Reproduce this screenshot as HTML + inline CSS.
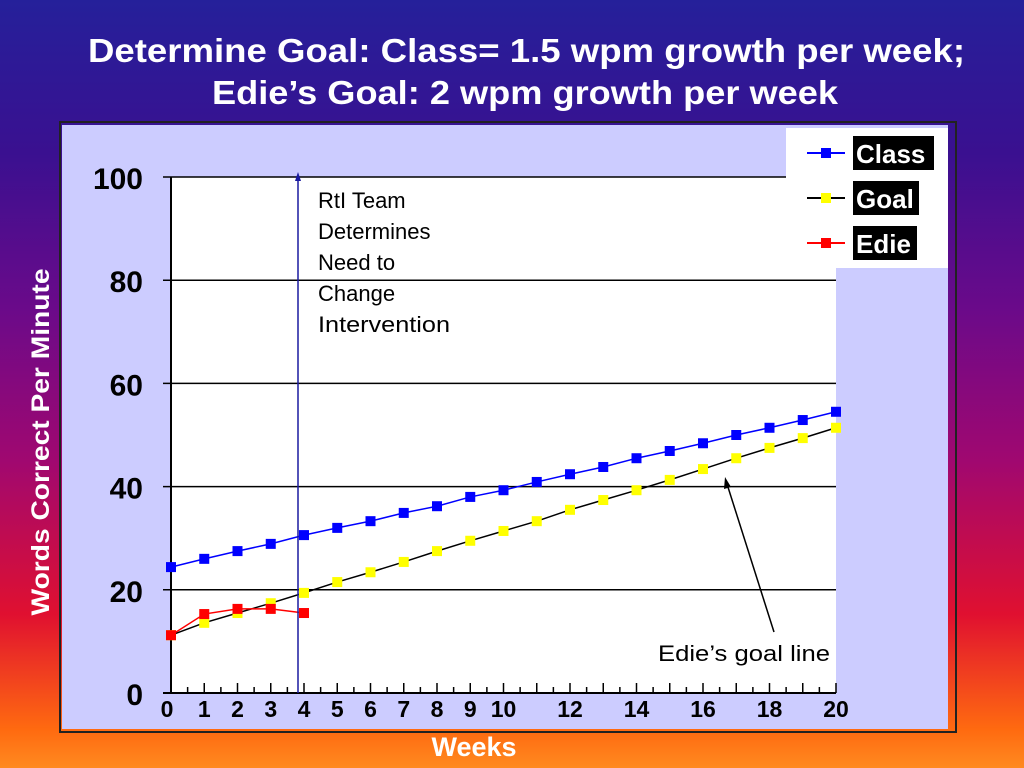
<!DOCTYPE html>
<html><head><meta charset="utf-8"><style>
html,body{margin:0;padding:0;width:1024px;height:768px;overflow:hidden}
body{background:linear-gradient(to bottom,#25209a 0%,#3a1090 20%,#6a0a8a 40%,#a00870 60%,#e01030 80%,#ff6a10 95%,#ff8a20 100%);font-family:"Liberation Sans",sans-serif}
</style></head><body>
<svg width="1024" height="768" xmlns="http://www.w3.org/2000/svg">
<text x="88" y="62" textLength="877" lengthAdjust="spacingAndGlyphs" font-size="33" font-weight="bold" fill="#fff">Determine Goal: Class= 1.5 wpm growth per week;</text>
<text x="212" y="104" textLength="626" lengthAdjust="spacingAndGlyphs" font-size="33" font-weight="bold" fill="#fff">Edie’s Goal: 2 wpm growth per week</text>
<rect x="60" y="122" width="896" height="610" fill="none" stroke="#222" stroke-width="2"/>
<rect x="62" y="125" width="886" height="604" fill="#ccccff"/>
<rect x="171" y="177" width="665" height="516" fill="#fff"/>
<g id="grid"></g><g id="axes"></g><g id="series"></g>
<line x1="298" y1="693" x2="298" y2="180" stroke="#1a1aa0" stroke-width="1.5"/>
<polygon points="298,172 295,181 301,181" fill="#1a1aa0"/>
<g font-size="22" fill="#000">
<text x="318" y="208">RtI Team</text><text x="318" y="239">Determines</text><text x="318" y="270">Need to</text><text x="318" y="301">Change</text><text x="318" y="332" textLength="132" lengthAdjust="spacingAndGlyphs">Intervention</text></g>
<text x="658" y="661" font-size="22" textLength="172" lengthAdjust="spacingAndGlyphs">Edie’s goal line</text>
<line x1="774" y1="632" x2="727" y2="484" stroke="#000" stroke-width="1.5"/>
<polygon points="725,477 724,489 731,487" fill="#000"/>
<rect x="786" y="128" width="162" height="140" fill="#fff"/>
<g><line x1="807" y1="153" x2="845" y2="153" stroke="#0000ff" stroke-width="2"/><rect x="821" y="148" width="10" height="10" fill="#0000ff"/><rect x="853" y="136" width="81" height="34" fill="#000"/><text x="856" y="163" font-size="26" font-weight="bold" fill="#fff">Class</text></g>
<g><line x1="807" y1="198" x2="845" y2="198" stroke="#000" stroke-width="2"/><rect x="821" y="193" width="10" height="10" fill="#ffff00"/><rect x="853" y="181" width="66" height="34" fill="#000"/><text x="856" y="208" font-size="26" font-weight="bold" fill="#fff">Goal</text></g>
<g><line x1="807" y1="243" x2="845" y2="243" stroke="#ff0000" stroke-width="2"/><rect x="821" y="238" width="10" height="10" fill="#ff0000"/><rect x="853" y="226" width="64" height="34" fill="#000"/><text x="856" y="253" font-size="26" font-weight="bold" fill="#fff">Edie</text></g>
<text x="49" y="442" transform="rotate(-90 49 442)" text-anchor="middle" font-size="25" font-weight="bold" fill="#fff" textLength="347" lengthAdjust="spacingAndGlyphs">Words Correct Per Minute</text>
<text x="474" y="756" text-anchor="middle" font-size="27" font-weight="bold" fill="#fff">Weeks</text>
</svg>
<script>
const weeks=[0,1,2,3,4,5,6,7,8,9,10,11,12,13,14,15,16,17,18,19,20];
const classVals=[24.4,26,27.5,28.9,30.6,32,33.3,34.9,36.2,38,39.3,40.9,42.4,43.8,45.5,46.9,48.4,50,51.4,52.9,54.5];
const goalVals=[11.2,13.6,15.5,17.4,19.4,21.5,23.4,25.4,27.5,29.5,31.4,33.3,35.5,37.4,39.3,41.3,43.4,45.5,47.5,49.4,51.4];
const edieVals=[11.2,15.3,16.3,16.3,15.5];
const yTicks=[0,20,40,60,80,100];
const xLabels=[0,1,2,3,4,5,6,7,8,9,10,12,14,16,18,20];
const NS="http://www.w3.org/2000/svg";
const X=w=>171+w*33.25, Y=v=>693-v*5.16;
function mk(t,a,p){const e=document.createElementNS(NS,t);for(const k in a)e.setAttribute(k,a[k]);p.appendChild(e);return e;}
const grid=document.getElementById('grid'),axes=document.getElementById('axes'),ser=document.getElementById('series');
yTicks.forEach(v=>{
 if(v>0){const g=mk('line',{x1:163,x2:836,y1:Y(v),y2:Y(v),stroke:'#000','stroke-width':1.5},grid);
 
 }
 const t=mk('text',{x:143,y:Y(v)+12,'text-anchor':'end','font-size':30,'font-weight':'bold'},axes);t.textContent=v;
 
 
});
const ya=mk('line',{x1:171,x2:171,y1:177,y2:693,stroke:'#000','stroke-width':2},axes);


const xa=mk('line',{x1:163,x2:836,y1:693,y2:693,stroke:'#000','stroke-width':2},axes);


for(let i=0;i<=40;i++){const w=i/2;const tk=mk('line',{x1:X(w),x2:X(w),y1:i%2?687:683,y2:693,stroke:'#000','stroke-width':1.5},axes);
 
 }
xLabels.forEach(w=>{const t=mk('text',{x:X(w)-(w==0?4:0),y:717,'text-anchor':'middle','font-size':23,'font-weight':'bold'},axes);t.textContent=w;
 
 });
function series(vals,lc,mc,name){
 const pl=mk('polyline',{points:vals.map((v,i)=>X(weeks[i])+','+Y(v)).join(' '),fill:'none',stroke:lc,'stroke-width':1.5},ser);
 
 
 vals.forEach((v,i)=>{const r=mk('rect',{x:X(weeks[i])-5,y:Y(v)-5,width:10,height:10,fill:mc},ser);
 
 });
}
series(goalVals,'#000','#ffff00','goal');
series(classVals,'#0000ff','#0000ff','class');
series(edieVals,'#ff0000','#ff0000','edie');
</script>
</body></html>
